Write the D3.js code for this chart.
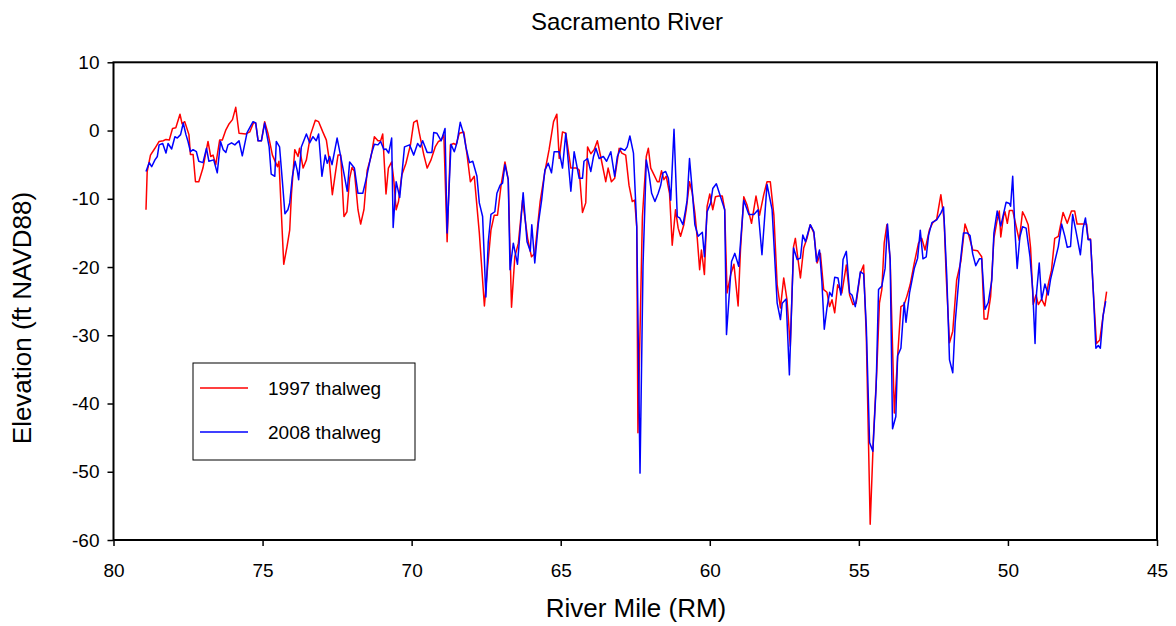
<!DOCTYPE html>
<html>
<head>
<meta charset="utf-8">
<script src="https://cdn.jsdelivr.net/npm/d3@7"></script>
<style>
body { margin: 0; background: #fff; }
text { font-family: "Liberation Sans", Arial, sans-serif; }
</style>
</head>
<body>
<div id="chart"></div>
<script>
// 1997 thalweg
var rm1997 = [78.91,78.87,78.76,78.61,78.47,78.33,78.24,78.13,78.02,77.91,77.77,77.70,77.61,77.47,77.42,77.33,77.25,77.14,77.00,76.83,
  76.74,76.66,76.57,76.44,76.35,76.23,76.12,76.01,75.90,75.79,75.56,75.43,75.30,75.23,75.15,75.04,74.93,74.82,74.67,74.56,
  74.50,74.45,74.29,74.18,74.09,74.03,73.92,73.81,73.76,73.64,73.53,73.39,73.23,73.12,72.98,72.86,72.77,72.66,72.56,72.47,
  72.38,72.27,72.17,72.08,72.00,71.92,71.80,71.71,71.60,71.49,71.36,71.25,71.13,71.04,70.97,70.86,70.78,70.67,70.60,70.52,
  70.44,70.33,70.19,70.04,69.93,69.82,69.74,69.59,69.48,69.35,69.21,69.10,69.01,68.92,68.81,68.70,68.59,68.51,68.40,68.25,
  68.14,68.03,67.90,67.73,67.56,67.45,67.34,67.23,67.12,67.00,66.87,66.76,66.65,66.54,66.42,66.28,66.11,65.98,65.87,65.69,
  65.53,65.39,65.24,65.13,65.05,64.94,64.83,64.66,64.46,64.38,64.27,64.16,64.10,63.99,63.88,63.77,63.66,63.49,63.41,63.30,
  63.19,63.04,62.95,62.82,62.71,62.60,62.52,62.45,62.41,62.26,62.13,62.06,61.98,61.87,61.76,61.70,61.62,61.54,61.46,61.35,
  61.26,61.15,61.06,60.98,60.87,60.79,60.68,60.59,60.50,60.42,60.34,60.28,60.18,60.09,60.00,59.90,59.81,59.70,59.58,59.50,
  59.42,59.30,59.19,59.05,58.97,58.86,58.75,58.60,58.45,58.33,58.19,58.08,57.97,57.85,57.74,57.63,57.52,57.41,57.30,57.19,
  57.13,57.04,56.96,56.85,56.74,56.63,56.51,56.40,56.29,56.18,56.07,55.98,55.90,55.81,55.71,55.57,55.42,55.31,55.20,55.09,
  54.95,54.84,54.75,54.62,54.51,54.40,54.31,54.23,54.15,54.06,53.95,53.81,53.70,53.59,53.48,53.39,53.28,53.14,53.00,52.89,
  52.78,52.63,52.52,52.39,52.25,52.14,52.07,51.96,51.85,51.72,51.58,51.44,51.33,51.18,51.02,50.88,50.80,50.69,50.58,50.47,
  50.36,50.29,50.24,50.15,50.10,50.02,49.95,49.84,49.76,49.62,49.51,49.43,49.32,49.24,49.15,49.06,48.98,48.87,48.76,48.65,
  48.54,48.43,48.31,48.15,48.01,47.87,47.76,47.68,47.53,47.36,47.31,47.23,47.14,47.03,46.92,46.81,46.69]
var elev1997 = [-11.6,-6.0,-3.6,-2.6,-1.6,-1.5,-1.3,-1.4,0.3,0.4,2.4,1.0,1.3,-0.6,-3.5,-3.5,-7.5,-7.5,-5.5,-1.6,
  -3.8,-3.6,-5.0,-1.4,-1.4,0.1,1.0,1.6,3.4,-0.4,-0.5,-0.2,1.2,1.1,-1.5,-1.5,1.3,-0.4,-3.6,-4.7,
  -5.3,-4.5,-19.6,-17.0,-14.6,-9.2,-2.8,-3.8,-2.6,-5.5,-4.3,-0.6,1.5,1.3,-0.2,-1.4,-4.1,-9.4,-6.3,-3.6,
  -3.6,-12.6,-11.9,-7.0,-5.4,-6.0,-11.6,-13.7,-11.6,-5.8,-3.8,-0.9,-1.5,-1.5,-0.5,-9.3,-5.5,-4.6,-7.2,-11.6,
  -10.4,-6.5,-4.8,-2.1,1.2,1.5,-0.4,-3.6,-5.5,-4.3,-2.4,-1.6,-1.4,-0.6,-16.3,-2.1,-1.9,-2.1,-0.4,-0.2,
  -3.6,-7.5,-6.7,-15.0,-25.7,-19.9,-14.6,-12.4,-12.4,-8.0,-4.6,-7.2,-25.9,-18.5,-16.5,-10.2,-15.8,-18.5,-18.0,-10.4,
  -6.0,-2.8,1.3,2.4,-4.1,-0.2,-0.4,-5.5,-5.5,-5.8,-12.0,-10.6,-2.4,-3.4,-2.8,-1.5,-3.8,-7.5,-5.5,-7.5,
  -7.0,-2.6,-3.3,-3.6,-8.0,-10.4,-10.2,-14.1,-44.3,-12.6,-3.8,-2.6,-5.5,-6.5,-7.5,-7.5,-5.9,-7.2,-6.7,-9.2,
  -16.8,-11.6,-14.3,-15.5,-13.8,-11.6,-7.5,-9.1,-12.1,-15.8,-20.4,-17.5,-21.1,-11.1,-9.3,-11.6,-9.7,-9.6,-9.6,-11.6,
  -23.8,-21.1,-19.6,-25.7,-17.5,-9.7,-10.9,-13.6,-9.6,-12.4,-9.4,-7.5,-7.5,-12.4,-22.6,-26.0,-21.6,-24.8,-31.6,-17.0,
  -15.8,-18.9,-21.6,-17.2,-15.8,-13.8,-15.0,-19.4,-18.0,-23.3,-23.7,-25.8,-24.8,-26.7,-22.6,-23.8,-19.7,-24.1,-25.5,-25.3,
  -20.9,-19.7,-30.2,-57.7,-44.8,-35.3,-25.3,-23.3,-16.5,-13.8,-18.9,-41.4,-33.1,-25.8,-25.5,-24.3,-22.6,-19.4,-16.5,-15.8,
  -17.5,-14.5,-13.5,-13.0,-9.4,-13.1,-21.4,-31.1,-29.4,-21.9,-19.2,-13.7,-15.1,-17.5,-17.6,-18.5,-27.6,-27.6,-24.3,-15.8,
  -13.1,-11.8,-15.6,-12.6,-11.9,-13.6,-11.7,-11.7,-13.3,-16.1,-11.9,-12.6,-13.8,-17.2,-25.5,-24.1,-25.5,-24.7,-25.7,-22.6,
  -20.5,-15.8,-15.5,-12.0,-13.6,-11.8,-11.8,-13.7,-13.7,-13.7,-15.9,-15.9,-23.3,-31.2,-30.7,-27.2,-23.6]

// 2008 thalweg
var rm2008 = [78.91,78.80,78.72,78.61,78.53,78.47,78.35,78.24,78.17,78.05,77.94,77.86,77.75,77.66,77.57,77.50,77.42,77.33,77.22,77.14,
  77.00,76.88,76.80,76.64,76.52,76.41,76.32,76.23,76.16,76.04,75.93,75.79,75.68,75.52,75.32,75.23,75.15,75.04,74.93,74.78,
  74.71,74.59,74.54,74.43,74.34,74.25,74.15,74.09,74.00,73.91,73.84,73.79,73.70,73.53,73.42,73.31,73.20,73.12,73.01,72.90,
  72.83,72.75,72.67,72.50,72.38,72.27,72.16,72.08,71.92,71.80,71.64,71.52,71.36,71.25,71.13,71.04,70.93,70.86,70.77,70.67,
  70.62,70.52,70.40,70.24,70.07,69.93,69.80,69.71,69.63,69.48,69.32,69.26,69.15,69.01,68.88,68.81,68.68,68.57,68.48,68.37,
  68.25,68.18,68.06,67.95,67.81,67.73,67.62,67.51,67.43,67.34,67.21,67.14,67.03,66.95,66.87,66.76,66.70,66.59,66.45,66.26,
  66.13,66.02,65.97,65.87,65.75,65.64,65.53,65.42,65.31,65.22,65.05,64.94,64.83,64.66,64.55,64.38,64.27,64.22,64.10,63.99,
  63.90,63.82,63.71,63.57,63.46,63.32,63.19,63.10,62.99,62.85,62.77,62.68,62.56,62.45,62.34,62.24,62.13,62.04,61.95,61.84,
  61.73,61.65,61.57,61.48,61.39,61.31,61.20,61.09,61.01,60.90,60.81,60.76,60.68,60.59,60.50,60.39,60.25,60.18,60.09,59.97,
  59.90,59.78,59.64,59.50,59.44,59.27,59.16,59.03,58.86,58.69,58.52,58.38,58.25,58.08,57.91,57.74,57.63,57.57,57.44,57.33,
  57.19,57.07,56.96,56.88,56.79,56.63,56.51,56.42,56.32,56.24,56.16,56.07,55.98,55.90,55.81,55.70,55.60,55.53,55.42,55.31,
  55.23,55.12,54.95,54.84,54.75,54.64,54.53,54.42,54.34,54.23,54.12,54.04,53.95,53.87,53.76,53.70,53.59,53.48,53.42,53.30,
  53.14,53.03,52.94,52.85,52.74,52.66,52.55,52.39,52.25,52.16,52.05,51.96,51.85,51.77,51.60,51.49,51.36,51.27,51.18,51.08,
  50.96,50.88,50.77,50.66,50.54,50.47,50.36,50.24,50.06,49.95,49.91,49.84,49.76,49.69,49.60,49.51,49.39,49.26,49.17,49.09,
  49.04,48.95,48.87,48.76,48.65,48.57,48.43,48.31,48.20,48.09,48.01,47.90,47.83,47.72,47.57,47.48,47.40,47.31,47.23,47.14,
  47.05,46.97,46.90,46.81,46.72]
var elev2008 = [-6.0,-4.7,-5.3,-4.3,-3.8,-2.1,-1.9,-3.3,-1.9,-2.7,-0.9,-1.1,-0.6,1.1,-0.6,-1.6,-3.1,-2.8,-3.1,-4.5,
  -4.7,-2.6,-4.5,-4.3,-6.2,-1.6,-2.8,-3.2,-2.1,-1.8,-2.1,-1.5,-3.7,-0.3,1.3,1.1,-1.5,-1.5,1.1,-2.4,
  -6.4,-6.7,-1.6,-2.4,-7.2,-12.2,-11.6,-10.6,-6.7,-4.5,-5.8,-7.2,-2.4,-0.5,-1.8,-0.9,-1.5,-0.5,-6.7,-3.6,
  -4.8,-3.8,-5.0,-1.1,-3.8,-6.3,-8.9,-4.6,-5.5,-9.2,-9.2,-7.0,-3.6,-2.0,-2.1,-1.6,-2.8,-2.7,-3.3,-1.1,
  -14.2,-7.5,-9.8,-2.4,-2.1,-3.6,-1.9,-2.4,-1.5,-3.2,-3.2,-0.3,-0.4,-1.5,0.3,-15.0,-2.0,-3.1,-1.8,1.2,
  -0.6,-2.4,-4.7,-4.5,-6.7,-10.6,-12.6,-24.4,-16.3,-12.3,-11.9,-9.2,-8.0,-7.7,-5.0,-7.2,-20.4,-16.5,-19.6,-9.1,
  -16.3,-17.7,-13.8,-19.4,-13.6,-10.2,-5.8,-4.8,-6.2,-3.1,-3.1,-5.5,-0.4,-8.9,-3.1,-7.0,-7.0,-4.5,-4.1,-6.0,
  -3.8,-2.6,-4.1,-3.8,-4.5,-3.1,-6.7,-3.8,-2.6,-2.9,-2.4,-0.8,-3.3,-14.1,-50.2,-19.9,-4.3,-6.3,-9.2,-10.4,
  -9.2,-8.1,-6.2,-6.0,-7.0,-10.2,0.2,-12.6,-12.8,-13.8,-11.6,-10.2,-4.1,-8.7,-13.8,-15.5,-14.9,-18.5,-11.9,-10.6,
  -8.5,-7.8,-9.7,-11.6,-29.9,-19.2,-18.0,-19.9,-10.2,-12.3,-12.3,-11.6,-18.2,-7.9,-11.6,-25.3,-27.7,-25.3,-24.7,-35.8,
  -17.2,-18.9,-18.7,-15.3,-16.3,-13.8,-14.8,-19.2,-17.5,-22.1,-29.1,-26.0,-23.7,-24.3,-21.5,-21.6,-24.1,-18.9,-17.7,-23.8,
  -24.1,-25.8,-20.7,-21.0,-28.7,-45.7,-47.0,-37.5,-23.3,-22.8,-20.2,-13.7,-18.9,-43.7,-41.9,-33.0,-31.9,-25.2,-28.1,-23.8,
  -20.2,-18.7,-14.6,-18.8,-18.5,-15.3,-13.5,-13.1,-12.1,-11.2,-21.4,-33.6,-35.5,-28.2,-19.4,-15.0,-15.0,-15.4,-18.1,-19.8,
  -18.8,-18.8,-26.2,-25.2,-21.9,-15.0,-11.8,-14.0,-10.5,-10.7,-11.1,-6.7,-15.0,-20.2,-15.6,-14.1,-14.3,-18.5,-23.3,-31.2,
  -23.8,-19.4,-24.8,-22.5,-24.1,-21.8,-19.2,-17.0,-13.7,-15.5,-17.1,-17.0,-12.3,-14.7,-18.2,-14.3,-12.8,-16.0,-16.0,-23.3,
  -31.9,-31.5,-31.9,-27.2,-25.0]

var xTicks = [80, 75, 70, 65, 60, 55, 50, 45]
var yTicks = [10, 0, -10, -20, -30, -40, -50, -60]

var width = 1176
var height = 626
var plotLeft = 113.5, plotRight = 1157, plotTop = 62.3, plotBottom = 540

var x = d3.scaleLinear().domain([80, 45]).range([plotLeft, plotRight])
var y = d3.scaleLinear().domain([10, -60]).range([plotTop, plotBottom])

// plain hyphen minus, like the original
var plain = function(d) { return String(d) }

var svg = d3.select("#chart")
  .append("svg")
  .attr("width", width)
  .attr("height", height)

svg.append("text")
  .attr("x", 627)
  .attr("y", 30)
  .attr("text-anchor", "middle")
  .attr("font-size", 24)
  .text("Sacramento River")

svg.append("g")
  .attr("transform", "translate(0," + plotBottom + ")")
  .call(d3.axisBottom(x).tickValues(xTicks).tickSize(6).tickSizeOuter(0).tickPadding(18).tickFormat(plain))

svg.append("g")
  .attr("transform", "translate(" + plotLeft + ",0)")
  .call(d3.axisLeft(y).tickValues(yTicks).tickSize(6).tickSizeOuter(0).tickPadding(8).tickFormat(plain))

svg.selectAll(".domain").remove()
svg.selectAll(".tick line").attr("stroke", "#000").attr("stroke-width", 1.5)
svg.selectAll(".tick text")
  .attr("font-size", 19)
  .attr("font-family", "'Liberation Sans', Arial, sans-serif")
  .attr("fill", "#000")

svg.append("rect")
  .attr("x", plotLeft)
  .attr("y", plotTop)
  .attr("width", plotRight - plotLeft)
  .attr("height", plotBottom - plotTop)
  .attr("fill", "none")
  .attr("stroke", "#000")
  .attr("stroke-width", 2)

function series(rms, elevs) {
  return rms.map(function(d, i) { return {rm: d, elev: elevs[i]} })
}

var line = d3.line()
  .x(function(d) { return x(d.rm) })
  .y(function(d) { return y(d.elev) })

svg.append("path")
  .datum(series(rm1997, elev1997))
  .attr("d", line)
  .attr("fill", "none")
  .attr("stroke", "#ff0000")
  .attr("stroke-width", 1.5)
  .attr("stroke-linejoin", "round")

svg.append("path")
  .datum(series(rm2008, elev2008))
  .attr("d", line)
  .attr("fill", "none")
  .attr("stroke", "#0000ff")
  .attr("stroke-width", 1.5)
  .attr("stroke-linejoin", "round")

svg.append("text")
  .attr("x", 636)
  .attr("y", 617)
  .attr("text-anchor", "middle")
  .attr("font-size", 26)
  .text("River Mile (RM)")

svg.append("text")
  .attr("transform", "translate(31," + 318 + ") rotate(-90)")
  .attr("text-anchor", "middle")
  .attr("font-size", 26)
  .text("Elevation (ft NAVD88)")

// legend
var legend = svg.append("g")
legend.append("rect")
  .attr("x", 193)
  .attr("y", 363)
  .attr("width", 222)
  .attr("height", 97)
  .attr("fill", "#fff")
  .attr("stroke", "#000")
  .attr("stroke-width", 1)

var items = [{label: "1997 thalweg", color: "#ff0000", y: 388}, {label: "2008 thalweg", color: "#0000ff", y: 432}]
items.forEach(function(d) {
  legend.append("line")
    .attr("x1", 200).attr("x2", 248)
    .attr("y1", d.y).attr("y2", d.y)
    .attr("stroke", d.color)
    .attr("stroke-width", 1.5)
  legend.append("text")
    .attr("x", 268)
    .attr("y", d.y + 7)
    .attr("font-size", 19)
    .text(d.label)
})
</script>
</body>
</html>
